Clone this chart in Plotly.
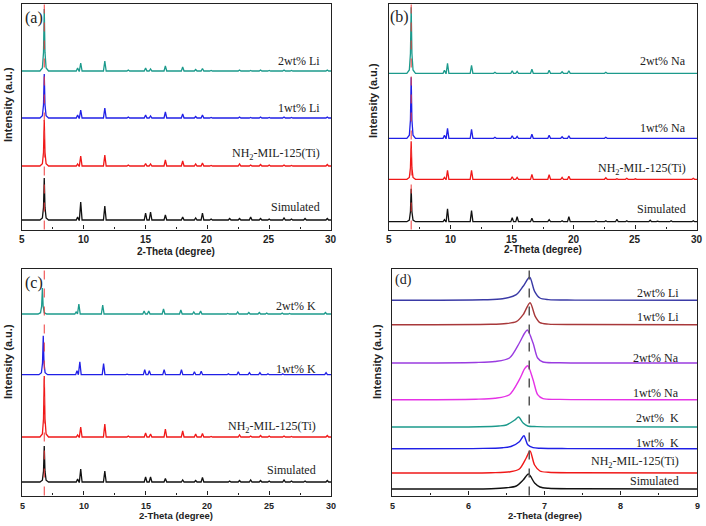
import plotly.graph_objects as go

W, H = 706, 526

# ---------------- data ----------------
# tick labels
ticks_wide = [5, 10, 15, 20, 25, 30]
ticks_zoom = [5, 6, 7, 8, 9]

# common peak positions (2-theta, degree) for panels a, b and the un-doped samples in c
pos = [6.8, 9.5, 9.75, 11.7, 13.6, 15.0, 15.4, 16.6, 18.0, 19.05, 19.6, 20.3,
       21.8, 22.6, 23.5, 24.3, 25.0, 26.2, 26.8, 27.9, 29.7]

# panel (a) - Li
a_names = ["Simulated", "NH<sub>2</sub>-MIL-125(Ti)", "1wt% Li", "2wt% Li"]
a_offsets = [9.5, 63.5, 111.5, 158.5]
a_sim = [42, 3, 18, 14, 0.5, 7, 8, 5, 3, 2, 7, 1, 1.5, 1.5, 3, 1.5, 1, 2, 1, 1.5, 1.5]
a_nh2 = [46, 2, 10, 11, 1, 2.5, 2, 6, 5, 2, 3, 0.5, 0.5, 2, 1, 1.5, 1, 1, 0.5, 0.5, 1.5]
a_li1 = [44, 3, 8, 10, 1, 3, 2, 6, 4, 1.5, 3, 0.5, 0.5, 1, 0.5, 1, 0.5, 1, 0.5, 0.5, 1]
a_li2 = [62, 3, 8, 10, 1, 3, 2, 5, 4, 1.5, 2.5, 0.5, 0.5, 1, 0.5, 1, 0.5, 1, 0.5, 0.5, 1]

# panel (b) - Na
b_names = ["Simulated", "NH<sub>2</sub>-MIL-125(Ti)", "1wt% Na", "2wt% Na"]
b_offsets = [7.8, 50.2, 91.2, 156.2]
b_sim = [33, 2, 13, 11, 0.3, 4, 5, 3.5, 2, 1, 5, 0.5, 1, 1, 2.5, 1, 0.5, 1.5, 0.5, 1, 1]
b_nh2 = [38, 2, 9, 9, 0.5, 2.5, 2, 5, 4.5, 2, 3, 0.3, 0.3, 1.5, 0.5, 1, 0.5, 0.5, 0.3, 0.3, 1]
b_na1 = [61, 3, 10, 9, 1, 2.5, 2, 4, 3, 1.5, 2.5, 0.3, 0.3, 1, 0.5, 0.5, 0.5, 0.5, 0.3, 0.3, 0.5]
b_na2 = [66, 3, 10, 8, 1, 2.5, 2, 4, 3, 1.5, 2.5, 0.3, 0.3, 1, 0.5, 0.5, 0.5, 0.5, 0.3, 0.3, 0.5]

# panel (c) - K
c_names = ["Simulated", "NH<sub>2</sub>-MIL-125(Ti)", "1wt% K", "2wt% K"]
c_offsets = [13.5, 58.5, 120.8, 181.5]
c_sim = [36, 3, 13, 11, 0.5, 5, 5, 3.5, 2, 1.5, 4.5, 0.5, 1, 1.5, 2, 1.5, 1, 2, 1, 1, 1.5]
c_nh2 = [61, 2, 10, 13, 1, 4, 3, 8, 6, 3, 3.5, 0.5, 0.5, 2, 1, 1.5, 1, 1, 0.5, 0.5, 1.5]
pos_k1 = [6.72, 9.45, 9.68, 11.6, 13.5, 14.93, 15.3, 16.5, 17.9, 18.95, 19.5, 20.2,
          21.7, 22.5, 23.4, 24.25, 24.9, 26.1, 26.7, 27.8, 29.6]
c_k1 = [39, 4, 13, 11, 0.5, 5, 4, 5, 5, 3, 3.5, 0.5, 1, 3, 2, 2, 1, 1, 0.5, 0.5, 2]
pos_k2 = [6.65, 9.38, 9.6, 11.53, 13.45, 14.88, 15.25, 16.45, 17.85, 18.9, 19.45, 20.15,
          21.65, 22.45, 23.35, 24.2, 24.8, 26.05, 26.65, 27.75, 29.55]
c_k2 = [26, 2, 10, 9, 0.3, 3, 3, 5, 4, 2, 3, 0.3, 0.5, 2, 1.5, 1.5, 1, 1, 0.5, 0.5, 1.5]

# panel (d) - zoom on the first peak (explicit profile points)
d_names = ["Simulated", "NH<sub>2</sub>-MIL-125(Ti)", "1wt%  K", "2wt%  K",
           "1wt% Na", "2wt% Na", "1wt% Li", "2wt% Li"]
d_offsets = [6.5, 22.5, 46.8, 68.5, 95.8, 132.5, 170.8, 195.2]
d_x_sim = [5.0, 6.3, 6.5, 6.63, 6.72, 6.79, 6.87, 6.94, 7.05, 7.4, 9.0]
d_y_sim = [0, 0.3, 1.2, 3, 9, 15, 6, 2, 0.7, 0.2, 0]
d_x_nh2 = [5.0, 6.3, 6.55, 6.67, 6.76, 6.81, 6.87, 6.94, 7.05, 7.4, 9.0]
d_y_nh2 = [0, 0.3, 1.2, 4, 15, 22, 8, 2, 0.7, 0.2, 0]
d_x_k1 = [5.0, 6.2, 6.45, 6.56, 6.67, 6.73, 6.78, 6.85, 6.95, 7.3, 9.0]
d_y_k1 = [0, 0.3, 1, 2.2, 7, 13, 4, 1, 0.4, 0.1, 0]
d_x_k2 = [5.0, 6.15, 6.4, 6.5, 6.61, 6.66, 6.72, 6.78, 6.9, 7.3, 9.0]
d_y_k2 = [0, 0.3, 1, 2, 7, 10, 4, 1, 0.4, 0.1, 0]
d_x_na1 = [5.0, 6.1, 6.35, 6.54, 6.67, 6.74, 6.78, 6.85, 6.91, 6.98, 7.2, 9.0]
d_y_na1 = [0, 0.5, 1.5, 5, 20, 31, 34, 20, 5, 1, 0.3, 0]
d_x_na2 = [5.0, 6.1, 6.35, 6.54, 6.67, 6.74, 6.775, 6.85, 6.91, 6.98, 7.2, 9.0]
d_y_na2 = [0, 0.5, 1.5, 5, 20, 30, 33, 20, 5, 1, 0.3, 0]
d_x_li1 = [5.0, 6.3, 6.5, 6.63, 6.72, 6.81, 6.88, 6.94, 7.05, 7.4, 9.0]
d_y_li1 = [0, 0.4, 1.2, 3, 10, 22, 8, 2, 0.6, 0.2, 0]
d_x_li2 = [5.0, 6.2, 6.45, 6.63, 6.72, 6.805, 6.87, 6.94, 7.05, 7.4, 9.0]
d_y_li2 = [0, 0.5, 1.5, 5.7, 14, 23, 9, 2.3, 0.7, 0.2, 0]

# ---------------- styling ----------------
C_BLACK, C_RED, C_BLUE, C_TEAL = "#111111", "#f01818", "#2020e6", "#1c9a8c"
abc_colors = [C_BLACK, C_RED, C_BLUE, C_TEAL]
d_colors = [C_BLACK, C_RED, C_BLUE, C_TEAL, "#e632e6", "#9a3ce0", "#a8383a", "#3a3aa6"]
TXT = "#222222"


def px_x(p):
    return p / W


def px_y(p):
    return 1 - p / H


dom = {
    "a": ([22 / W, 331 / W], [px_y(229.5), px_y(4)]),
    "b": ([389 / W, 697 / W], [px_y(229.5), px_y(4)]),
    "c": ([22 / W, 331 / W], [px_y(495.5), px_y(269)]),
    "d": ([392 / W, 697 / W], [px_y(495.5), px_y(269)]),
}
yheights = {"a": 225.5, "b": 225.5, "c": 226.5, "d": 226.5}
axid = {"a": ("x", "y"), "b": ("x2", "y2"), "c": ("x3", "y3"), "d": ("x4", "y4")}


def pattern(p, h, base, xmin=5, xmax=30):
    xs, ys = [xmin], [base]
    for c, hh in sorted(zip(p, h)):
        if hh >= 20:
            dx = [-0.35, -0.15, -0.06, 0, 0.06, 0.15, 0.35]
            fr = [0, 0.05, 0.3, 1, 0.3, 0.05, 0]
        else:
            dx = [-0.11, 0, 0.11]
            fr = [0, 1, 0]
        for d_, f in zip(dx, fr):
            xs.append(c + d_)
            ys.append(base + f * hh)
    xs.append(xmax)
    ys.append(base)
    return xs, ys


fig = go.Figure()

panels = [
    ("a", a_names, a_offsets, [(pos, a_sim), (pos, a_nh2), (pos, a_li1), (pos, a_li2)]),
    ("b", b_names, b_offsets, [(pos, b_sim), (pos, b_nh2), (pos, b_na1), (pos, b_na2)]),
    ("c", c_names, c_offsets, [(pos, c_sim), (pos, c_nh2), (pos_k1, c_k1), (pos_k2, c_k2)]),
]
label_gap = {"a": [13, 12, 10, 10], "b": [12.7, 10.3, 10.3, 12.3], "c": [12, 10, 5.7, 8.3]}
label_x = {"a": 29.3, "b": 29.27, "c": 28.95}

annotations = []
shapes = []
for key, names, offs, series in panels:
    xa, ya = axid[key]
    for i, ((pp, hh), nm, off) in enumerate(zip(series, names, offs)):
        xs, ys = pattern(pp, hh, off)
        fig.add_trace(go.Scatter(x=xs, y=ys, mode="lines", name=nm, showlegend=False,
                                 line=dict(color=abc_colors[i], width=1.3),
                                 xaxis=xa, yaxis=ya))
        annotations.append(dict(x=label_x[key], y=off + label_gap[key][i], xref=xa, yref=ya,
                                text=nm, showarrow=False, xanchor="right", yanchor="middle",
                                font=dict(family="Liberation Serif", size=12, color=TXT)))
    shapes.append(dict(type="line", xref=xa, yref=ya + " domain", x0=6.8, x1=6.8, y0=0, y1=1,
                       line=dict(color="#ee3a3a", width=1, dash="dash")))

d_series = [(d_x_sim, d_y_sim), (d_x_nh2, d_y_nh2), (d_x_k1, d_y_k1), (d_x_k2, d_y_k2),
            (d_x_na1, d_y_na1), (d_x_na2, d_y_na2), (d_x_li1, d_y_li1), (d_x_li2, d_y_li2)]
d_gap = [7.7, 11, 5.7, 9, 7.2, 5.5, 8.2, 7.8]
for i, ((xs, ys), nm, off) in enumerate(zip(d_series, d_names, d_offsets)):
    fig.add_trace(go.Scatter(x=xs, y=[off + v for v in ys], mode="lines", name=nm,
                             showlegend=False, line=dict(color=d_colors[i], width=1.4,
                                                          shape="spline", smoothing=0.8),
                             xaxis="x4", yaxis="y4"))
    annotations.append(dict(x=8.79, y=off + d_gap[i], xref="x4", yref="y4", text=nm,
                            showarrow=False, xanchor="right", yanchor="middle",
                            font=dict(family="Liberation Serif", size=12, color=TXT)))
shapes.append(dict(type="line", xref="x4", yref="y4 domain", x0=6.8, x1=6.8, y0=0, y1=1,
                   line=dict(color="#555555", width=1.5, dash="dash")))

# panel letters
for txt, x, y, s in [("(a)", 34, 18, 16), ("(b)", 399, 17, 16), ("(c)", 34, 283, 16), ("(d)", 403, 280, 14)]:
    annotations.append(dict(x=px_x(x), y=px_y(y), xref="paper", yref="paper", text=txt,
                            showarrow=False, xanchor="center", yanchor="middle",
                            font=dict(family="Liberation Serif", size=s, color=TXT)))

# x tick labels (as text placed under each axis)
tick_rows = [("x", ticks_wide, 239.5, 10), ("x2", ticks_wide, 239.5, 10),
             ("x3", ticks_wide, 505.5, 9), ("x4", ticks_zoom, 505.5, 9)]
for xa, vals, ypx, fs in tick_rows:
    for v in vals:
        annotations.append(dict(x=v, y=px_y(ypx), xref=xa, yref="paper", text=str(v),
                                showarrow=False, xanchor="center", yanchor="middle",
                                font=dict(family="Liberation Sans", size=fs, color=TXT,
                                          weight="bold")))

# axis titles
for x, y, fs in [(176, 251, 10), (543, 250, 10), (176, 515, 9.5), (545, 515, 9.5)]:
    annotations.append(dict(x=px_x(x), y=px_y(y), xref="paper", yref="paper",
                            text="2-Theta (degree)", showarrow=False,
                            xanchor="center", yanchor="middle",
                            font=dict(family="Liberation Sans", size=fs, color=TXT, weight="bold")))
for x, y in [(8, 105), (373, 100), (8, 362), (377, 362)]:
    annotations.append(dict(x=px_x(x), y=px_y(y), xref="paper", yref="paper",
                            text="Intensity (a.u.)", showarrow=False, textangle=-90,
                            xanchor="center", yanchor="middle",
                            font=dict(family="Liberation Sans", size=11, color=TXT, weight="bold")))

layout = dict(width=W, height=H, margin=dict(l=0, r=0, t=0, b=0),
              paper_bgcolor="white", plot_bgcolor="white", template="none",
              annotations=annotations, shapes=shapes, showlegend=False)

for key in ["a", "b", "c", "d"]:
    xa, ya = axid[key]
    xd, yd = dom[key]
    xname = "xaxis" if xa == "x" else "xaxis" + xa[1:]
    yname = "yaxis" if ya == "y" else "yaxis" + ya[1:]
    if key == "d":
        xr, dt, mdt = [5, 9], 1, 0.5
    else:
        xr, dt, mdt = [5, 30], 5, 2.5
    layout[xname] = dict(domain=xd, range=xr, anchor=ya, dtick=dt, tick0=5,
                         showline=True, mirror=True, linecolor=TXT, linewidth=1.2,
                         ticks="inside", ticklen=4, tickcolor=TXT, tickwidth=1,
                         minor=dict(dtick=mdt, tick0=5, ticks="inside", ticklen=2.5, tickcolor=TXT),
                         showticklabels=False,
                         showgrid=False, zeroline=False, automargin=False)
    layout[yname] = dict(domain=yd, range=[0, yheights[key]], anchor=xa,
                         showline=True, mirror=True, linecolor=TXT, linewidth=1.2,
                         ticks="", showticklabels=False, showgrid=False, zeroline=False,
                         automargin=False)

fig.update_layout(**layout)
fig.write_html("out.html", config={"displayModeBar": False},
               post_script="document.body.style.margin='0px';document.body.style.padding='0px';")
